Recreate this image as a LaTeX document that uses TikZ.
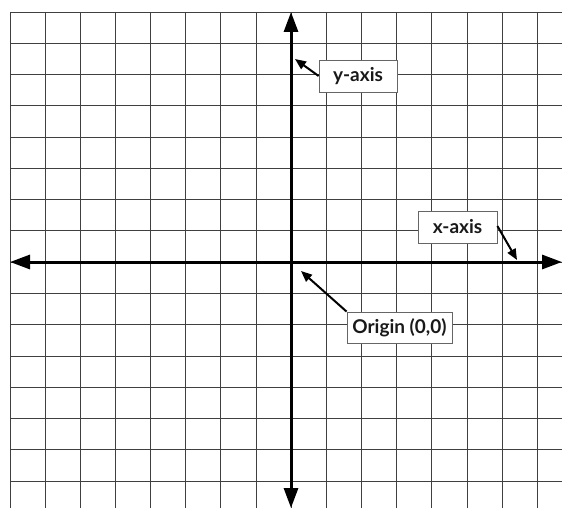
\documentclass[tikz,border=0pt]{standalone}
\usepackage{fontspec}
\setmainfont{Lato}
\usetikzlibrary{arrows.meta}
\begin{document}
\begin{tikzpicture}[x=1pt,y=-1pt,
  gridline/.style={draw=black!75, line width=0.9pt},
  axisline/.style={line width=3pt, {Triangle[length=20pt,width=14pt]}-{Triangle[length=20pt,width=14pt]}},
  lbl/.style={draw=black!60, line width=0.8pt, fill=white, inner sep=0pt, font=\fontsize{19}{22}\selectfont\bfseries, text=black!90},
  ptr/.style={line width=2pt, -{Triangle[length=11pt,width=9pt]}}]
\useasboundingbox (0,0) rectangle (562,508);
\fill[white] (0,0) rectangle (562,508);
\foreach \i in {0,...,15} \draw[gridline] ({10+\i*35.15},12) -- ({10+\i*35.15},508);
\foreach \j in {0,...,15} \draw[gridline] (10,{12+\j*31.27}) -- (562,{12+\j*31.27});
\coordinate (xl) at (10,262);
\coordinate (xr) at (562,262);
\coordinate (yt) at (291,12);
\coordinate (yb) at (291,508);
\draw[axisline] (xl) -- (xr);
\draw[axisline] (yt) -- (yb);
\node[lbl, minimum width=78pt, minimum height=32pt] (ylab) at (358,76) {y-axis};
\node[lbl, minimum width=79pt, minimum height=32pt] (xlab) at (457.5,227) {x-axis};
\node[lbl, minimum width=105pt, minimum height=31pt] (olab) at (399.5,327.5) {Origin (0,0)};
\coordinate (ytip) at (295,59);
\coordinate (xtip) at (517,260);
\coordinate (otip) at (301,271);
\draw[ptr] (ylab.west) -- (ytip);
\draw[ptr] ([yshift=1pt]xlab.east) -- (xtip);
\draw[ptr] (olab.north west) -- (otip);
\end{tikzpicture}
\end{document}
